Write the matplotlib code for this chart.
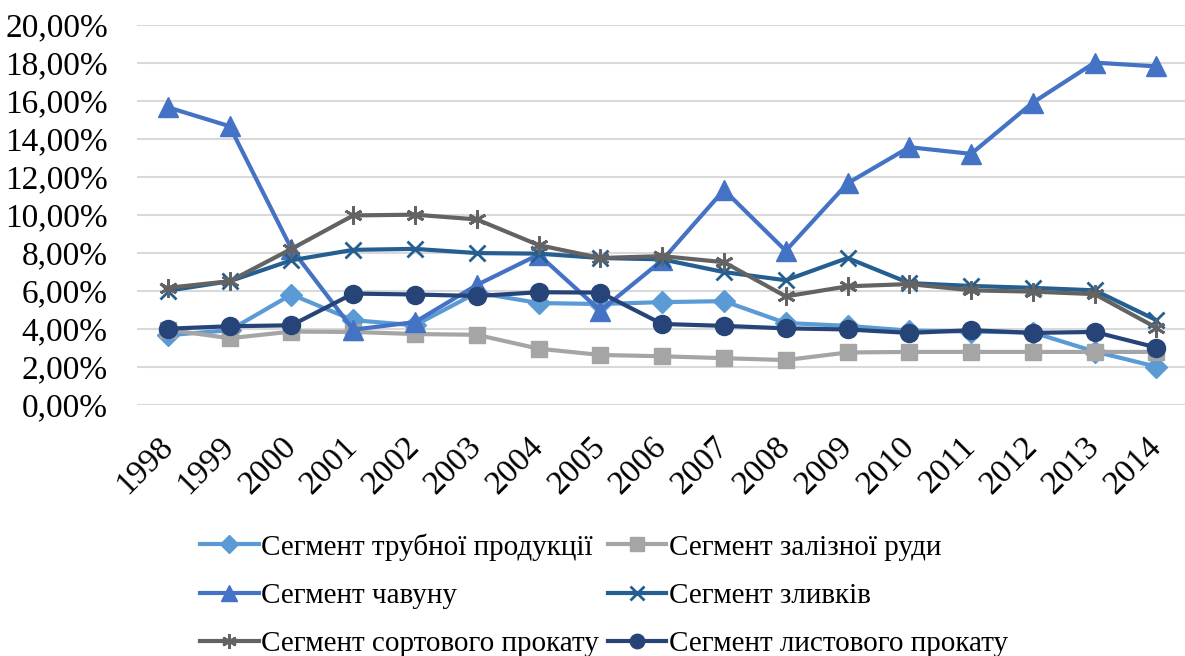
import matplotlib
matplotlib.use("Agg")
import matplotlib.pyplot as plt
from matplotlib.ticker import FuncFormatter

plt.rcParams['font.family'] = ['Liberation Serif', 'DejaVu Serif']

years = [str(y) for y in range(1998, 2015)]

# values in %
tube = [3.66, 3.92, 5.80, 4.45, 4.18, 5.90, 5.35, 5.30, 5.40, 5.45, 4.30, 4.15, 3.90, 3.85, 3.80, 2.80, 2.00]
ore = [3.95, 3.50, 3.85, 3.83, 3.72, 3.68, 2.95, 2.62, 2.55, 2.45, 2.35, 2.75, 2.78, 2.78, 2.78, 2.78, 2.78]
iron = [15.65, 14.65, 8.20, 3.95, 4.35, 6.30, 7.90, 4.95, 7.60, 11.30, 8.10, 11.65, 13.55, 13.20, 15.90, 18.00, 17.80]
ingots = [6.00, 6.50, 7.60, 8.15, 8.20, 7.98, 7.95, 7.72, 7.65, 6.98, 6.55, 7.72, 6.40, 6.25, 6.15, 6.02, 4.45]
section = [6.15, 6.50, 8.20, 9.96, 10.00, 9.75, 8.40, 7.72, 7.82, 7.50, 5.70, 6.23, 6.35, 6.02, 5.95, 5.82, 4.05]
sheet = [4.00, 4.13, 4.18, 5.85, 5.80, 5.72, 5.92, 5.90, 4.25, 4.15, 4.02, 3.96, 3.78, 3.92, 3.78, 3.83, 3.01]

series = [
    ("Сегмент трубної продукції", tube, "#5B9BD5", "D", 11),
    ("Сегмент залізної руди", ore, "#A5A5A5", "s", 12),
    ("Сегмент чавуну", iron, "#4472C4", "^", 14),
    ("Сегмент зливків", ingots, "#255E91", "x", 12),
    ("Сегмент сортового прокату", section, "#636363", "*", 13),
    ("Сегмент листового прокату", sheet, "#264478", "o", 13),
]

fig = plt.figure(figsize=(11.85, 6.56), dpi=100)
ax = fig.add_axes([0.1156, 0.383, 0.8864, 0.5795])

x = list(range(len(years)))
handles = []
for name, vals, color, marker, ms in series:
    if marker == "*":
        h, = ax.plot(x, vals, color=color, lw=3, marker=(6, 2, 0), ms=ms, mew=2,
                     label=name, zorder=3)
    elif marker == "x":
        h, = ax.plot(x, vals, color=color, lw=3, marker="x", ms=ms, mew=2,
                     label=name, zorder=3)
    else:
        h, = ax.plot(x, vals, color=color, lw=3, marker=marker, ms=ms,
                     mec=color, mfc=color, label=name, zorder=3)
    handles.append(h)

ax.set_xlim(-0.5, len(years) - 0.5)
ax.set_ylim(0, 20)
ax.set_yticks([0, 2, 4, 6, 8, 10, 12, 14, 16, 18, 20])
ax.yaxis.set_major_formatter(FuncFormatter(lambda v, p: f"{v:.2f}%".replace(".", ",")))
ax.set_xticks(x)
ax.set_xticklabels(years, rotation=45, ha="right", va="center", rotation_mode="anchor")
ax.tick_params(axis="both", length=0, labelsize=24)
ax.tick_params(axis="y", pad=21)
ax.tick_params(axis="x", pad=27)
ax.grid(axis="y", color="#D9D9D9", lw=1.5)
ax.set_axisbelow(True)
for s in ax.spines.values():
    s.set_visible(False)

# legend fills row by row like the original
order = [0, 2, 4, 1, 3, 5]
fig.legend([handles[i] for i in order], [series[i][0] for i in order],
           loc="upper center", bbox_to_anchor=(0.51, 0.205), ncol=2, frameon=False,
           fontsize=21, handlelength=2.0, handletextpad=0.1, columnspacing=0.3,
           labelspacing=0.75, borderaxespad=0, markerscale=0.8)

fig.savefig("out.png", dpi=100)
